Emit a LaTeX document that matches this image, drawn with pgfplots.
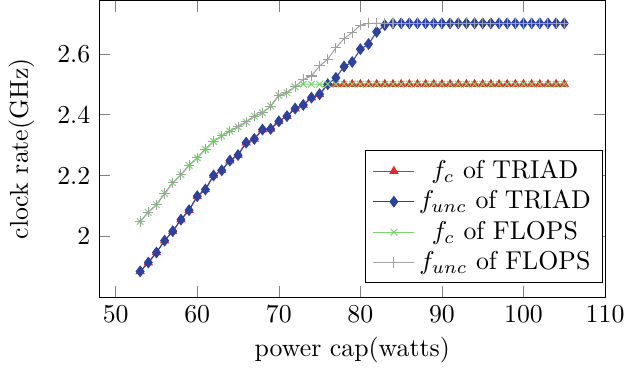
\documentclass[border=0pt]{standalone}
\usepackage{pgfplots}
\usepackage{pgfplotstable}
\pgfplotsset{compat=1.18}
\definecolor{tblue}{RGB}{45,65,160}
\definecolor{fgreen}{RGB}{120,215,110}
\definecolor{fgray}{RGB}{160,160,160}
\definecolor{tred}{RGB}{230,40,40}
\pgfplotstableread{
x y
53 1.885
54 1.914
55 1.947
56 1.986
57 2.017
58 2.055
59 2.086
60 2.132
61 2.154
62 2.200
63 2.217
64 2.249
65 2.267
66 2.308
67 2.320
68 2.351
69 2.353
70 2.378
71 2.395
72 2.420
73 2.432
74 2.456
75 2.467
76 2.500
77 2.500
78 2.500
79 2.500
80 2.500
81 2.500
82 2.500
83 2.500
84 2.500
85 2.500
86 2.500
87 2.500
88 2.500
89 2.500
90 2.500
91 2.500
92 2.500
93 2.500
94 2.500
95 2.500
96 2.500
97 2.500
98 2.500
99 2.500
100 2.500
101 2.500
102 2.500
103 2.500
104 2.500
105 2.500
}\triadfc
\pgfplotstableread{
x y
53 1.885
54 1.914
55 1.947
56 1.986
57 2.017
58 2.055
59 2.086
60 2.132
61 2.154
62 2.200
63 2.217
64 2.249
65 2.267
66 2.308
67 2.320
68 2.351
69 2.353
70 2.378
71 2.395
72 2.420
73 2.432
74 2.456
75 2.467
76 2.500
77 2.521
78 2.558
79 2.573
80 2.615
81 2.632
82 2.672
83 2.694
84 2.700
85 2.700
86 2.700
87 2.700
88 2.700
89 2.700
90 2.700
91 2.700
92 2.700
93 2.700
94 2.700
95 2.700
96 2.700
97 2.700
98 2.700
99 2.700
100 2.700
101 2.700
102 2.700
103 2.700
104 2.700
105 2.700
}\triadfunc
\pgfplotstableread{
x y
53 2.049
54 2.079
55 2.104
56 2.141
57 2.176
58 2.203
59 2.233
60 2.258
61 2.286
62 2.312
63 2.330
64 2.346
65 2.360
66 2.376
67 2.395
68 2.406
69 2.428
70 2.463
71 2.472
72 2.492
73 2.500
74 2.500
75 2.500
76 2.500
77 2.500
78 2.500
79 2.500
80 2.500
81 2.500
82 2.500
83 2.500
84 2.500
85 2.500
86 2.500
87 2.500
88 2.500
89 2.500
90 2.500
91 2.500
92 2.500
93 2.500
94 2.500
95 2.500
96 2.500
97 2.500
98 2.500
99 2.500
100 2.500
101 2.500
102 2.500
103 2.500
104 2.500
105 2.500
}\flopsfc
\pgfplotstableread{
x y
53 2.049
54 2.079
55 2.104
56 2.141
57 2.176
58 2.203
59 2.233
60 2.258
61 2.286
62 2.312
63 2.330
64 2.346
65 2.360
66 2.376
67 2.395
68 2.406
69 2.428
70 2.463
71 2.472
72 2.492
73 2.515
74 2.527
75 2.560
76 2.582
77 2.620
78 2.650
79 2.670
80 2.694
81 2.700
82 2.700
83 2.700
84 2.700
85 2.700
86 2.700
87 2.700
88 2.700
89 2.700
90 2.700
91 2.700
92 2.700
93 2.700
94 2.700
95 2.700
96 2.700
97 2.700
98 2.700
99 2.700
100 2.700
101 2.700
102 2.700
103 2.700
104 2.700
105 2.700
}\flopsfunc
\begin{document}
\begin{tikzpicture}
\begin{axis}[
  scale only axis,
  width=196pt, height=115pt,
  xmin=48, xmax=110, ymin=1.8, ymax=2.775,
  xtick={50,60,...,110},
  ytick={2,2.2,2.4,2.6},
  yticklabels={2,2.2,2.4,2.6},
  xlabel={power cap(watts)},
  ylabel={clock rate(GHz)},
  xlabel style={yshift=1.5pt},
  ylabel style={yshift=2pt},
  legend cell align=center,
  legend image code/.code={\draw[mark repeat=2,mark phase=2] plot coordinates {(0cm,0cm)(0.28cm,0cm)(0.56cm,0cm)};},
  legend style={at={(0.996,0.047)},anchor=south east, nodes={inner xsep=1.5pt, inner ysep=1.6pt}},
]
\addplot[color=tred, mark=triangle*, mark size=1.7pt, mark options={fill=tred}] table[x=x,y=y] {\triadfc};
\addlegendentry{$f_c$ of TRIAD}
\addplot[color=tblue, mark=diamond*, mark size=2pt, mark options={fill=tblue}] table[x=x,y=y] {\triadfunc};
\addlegendentry{$f_{unc}$ of TRIAD}
\addplot[color=fgreen, mark=x, mark size=1.8pt] table[x=x,y=y] {\flopsfc};
\addlegendentry{$f_c$ of FLOPS}
\addplot[color=fgray, mark=+, mark size=2pt] table[x=x,y=y] {\flopsfunc};
\addlegendentry{$f_{unc}$ of FLOPS}
\end{axis}
\end{tikzpicture}
\end{document}
